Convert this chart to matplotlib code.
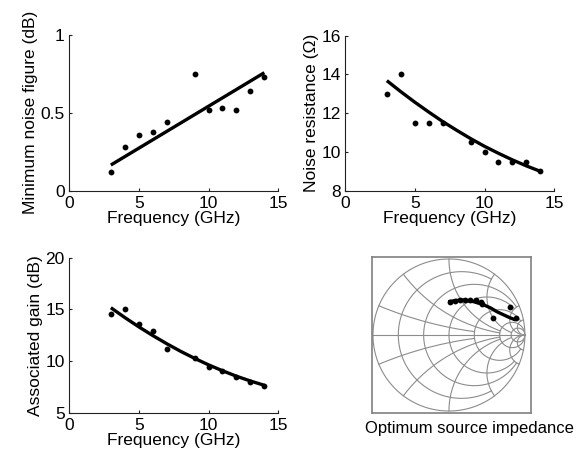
import numpy as np
import matplotlib
matplotlib.use("Agg")
import matplotlib.pyplot as plt

plt.rcParams['font.family'] = ['Liberation Sans', 'DejaVu Sans']
plt.rcParams['font.size'] = 12.5

# ---- data ----
freq = [3, 4, 5, 6, 7, 9, 10, 11, 12, 13, 14]
nf_min = [0.12, 0.28, 0.36, 0.38, 0.44, 0.75, 0.52, 0.53, 0.52, 0.64, 0.73]
fit_freq = [3, 4, 5, 6, 7, 8, 9, 10, 11, 12, 13, 14]
nf_fit_freq = [3, 14]
nf_fit = [0.165, 0.758]
rn = [13.0, 14.0, 11.5, 11.5, 11.5, 10.5, 10.0, 9.5, 9.5, 9.5, 9.0]
rn_fit = [13.68, 13.11, 12.57, 12.06, 11.57, 11.12, 10.69, 10.29, 9.93, 9.59, 9.28, 9.0]
gain = [14.52, 15.03, 13.6, 12.87, 11.13, 10.26, 9.42, 9.06, 8.48, 7.94, 7.6]
gain_fit = [15.16, 14.21, 13.31, 12.47, 11.68, 10.94, 10.26, 9.63, 9.06, 8.53, 8.07, 7.65]
gopt_re = [0.02, 0.08, 0.15, 0.21, 0.28, 0.36, 0.42, 0.43, 0.575, 0.80, 0.877]
gopt_im = [0.43, 0.45, 0.46, 0.465, 0.46, 0.455, 0.44, 0.41, 0.22, 0.37, 0.22]
gfit_re = [-0.01, 0.10, 0.19, 0.32, 0.45, 0.55, 0.63, 0.72, 0.80, 0.88]
gfit_im = [0.438, 0.455, 0.46, 0.44, 0.40, 0.355, 0.307, 0.265, 0.228, 0.197]
xticks = [0, 5, 10, 15]
smith_values = [10, 5, 2, 1, 0.5, 0.2]
smith_limits = [np.inf, 30, 10, 5, 5, 2]

W, H = 580, 455
fig = plt.figure(figsize=(W / 100, H / 100), dpi=100)

def px_axes(l, r, t, b):
    return fig.add_axes([l / W, 1 - b / H, (r - l) / W, (b - t) / H])

spine_col = '#222222'

def style(ax):
    for s in ['top', 'right']:
        ax.spines[s].set_visible(False)
    for s in ['left', 'bottom']:
        ax.spines[s].set_color(spine_col)
        ax.spines[s].set_linewidth(0.8)
    ax.tick_params(direction='in', length=2.5, width=0.8, color=spine_col, pad=3)
    ax.tick_params(axis='x', pad=4)

ms = 4.2
lw = 2.4

ax1 = px_axes(69, 278.3, 35, 190.7)
ax1.plot(nf_fit_freq, nf_fit, color='black', lw=lw, solid_capstyle='butt')
ax1.plot(freq, nf_min, 'o', color='black', ms=ms, mec='none')
ax1.set_xlim(0, 15); ax1.set_ylim(0, 1)
ax1.set_xticks(xticks); ax1.set_yticks([0, 0.5, 1]); ax1.set_yticklabels(['0', '0.5', '1'])
ax1.set_xlabel('Frequency (GHz)', labelpad=0)
ax1.set_ylabel('Minimum noise figure (dB)', labelpad=2)
style(ax1)

ax2 = px_axes(345, 554.3, 35.7, 190.7)
ax2.plot(fit_freq, rn_fit, color='black', lw=lw, solid_capstyle='butt')
ax2.plot(freq, rn, 'o', color='black', ms=ms, mec='none')
ax2.set_xlim(0, 15); ax2.set_ylim(8, 16)
ax2.set_xticks(xticks); ax2.set_yticks([8, 10, 12, 14, 16])
ax2.set_xlabel('Frequency (GHz)', labelpad=0)
ax2.set_ylabel('Noise resistance (\u03a9)', labelpad=2)
style(ax2)

ax3 = px_axes(69, 278.3, 257.7, 412.7)
ax3.plot(fit_freq, gain_fit, color='black', lw=lw, solid_capstyle='butt')
ax3.plot(freq, gain, 'o', color='black', ms=ms, mec='none')
ax3.set_xlim(0, 15); ax3.set_ylim(5, 20)
ax3.set_xticks(xticks); ax3.set_yticks([5, 10, 15, 20])
ax3.set_xlabel('Frequency (GHz)', labelpad=0)
ax3.set_ylabel('Associated gain (dB)', labelpad=2)
style(ax3)

# ---- Smith chart ----
ax4 = px_axes(372, 531, 257, 413)
ax4.set_xlim(-1.013, 1.08); ax4.set_ylim(-1.026, 1.026)
ax4.set_xticks([]); ax4.set_yticks([])
for s in ax4.spines.values():
    s.set_color('#808080'); s.set_linewidth(1.2)
gcol = '#8c8c8c'
glw = 0.8

def gamma(z):
    return (z - 1) / (z + 1)

# outer circle and real axis
t = np.linspace(0, 2 * np.pi, 400)
ax4.plot(np.cos(t), np.sin(t), color=gcol, lw=glw)
ax4.plot([-1, 1], [0, 0], color=gcol, lw=glw)
xs_big = np.concatenate([np.linspace(0, 1, 200), np.logspace(0, 4, 400)])
for v, lim in zip(smith_values, smith_limits):
    # constant resistance circle r=v, reactance |x|<=lim
    if np.isinf(lim):
        xx = np.concatenate([-xs_big[::-1], xs_big])
    else:
        xx = np.linspace(-lim, lim, 600)
        xx = np.sign(xx) * lim * (np.abs(xx) / lim) ** 2
    g = gamma(v + 1j * xx)
    ax4.plot(g.real, g.imag, color=gcol, lw=glw)
    # constant reactance arcs x=+-v, resistance r<=lim
    if np.isinf(lim):
        rr = xs_big
    else:
        rr = np.concatenate([np.linspace(0, min(lim, 1), 200), np.linspace(min(lim, 1), lim, 400)])
    for sgn in (1, -1):
        g = gamma(rr + 1j * sgn * v)
        ax4.plot(g.real, g.imag, color=gcol, lw=glw)

ax4.plot(gfit_re, gfit_im, color='black', lw=lw, solid_capstyle='butt')
ax4.plot(gopt_re, gopt_im, 'o', color='black', ms=ms, mec='none')
fig.text(469 / W, 1 - 428 / H, 'Optimum source impedance', ha='center', va='center', fontsize=12)

fig.savefig('out.png', dpi=100)
